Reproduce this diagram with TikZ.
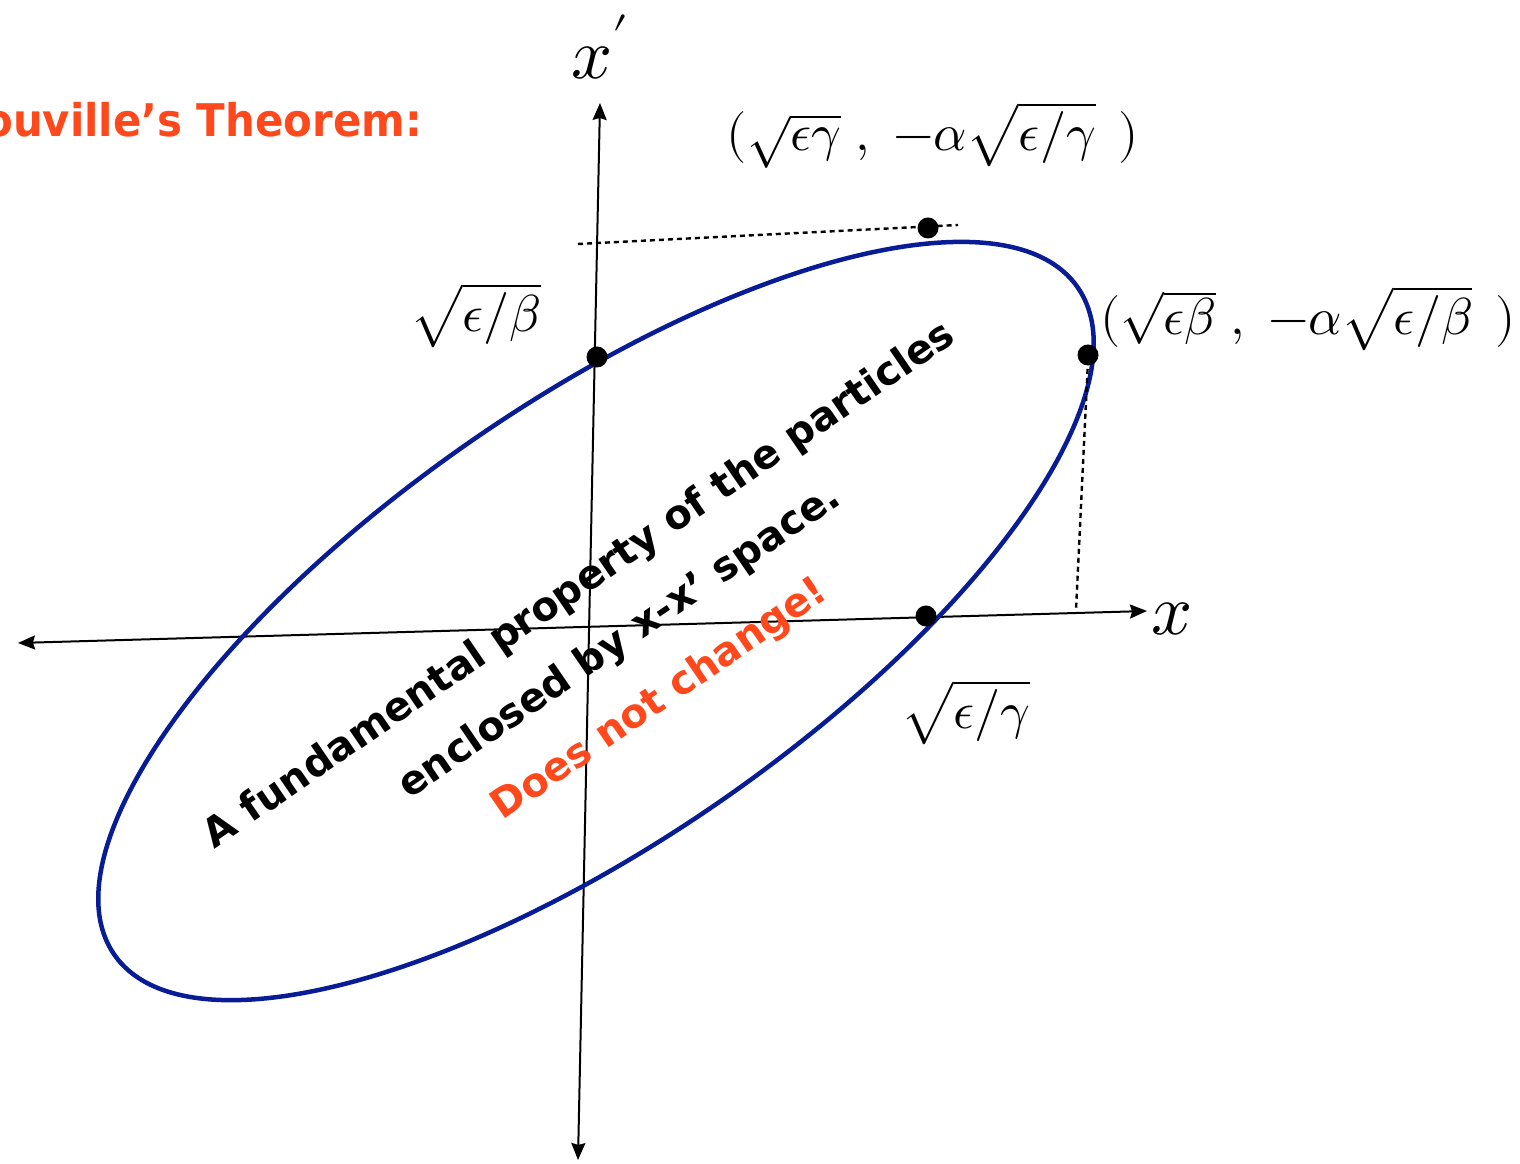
\documentclass[tikz,border=0pt]{standalone}
\usepackage{fontspec}
\usepackage{unicode-math}
\setmathfont{Latin Modern Math}
\newfontfamily\comicfont{DejaVu Sans}
\newfontfamily\titlefont[FakeStretch=0.93]{DejaVu Sans}
\usetikzlibrary{arrows.meta}
\definecolor{ered}{RGB}{255,72,28}
\definecolor{eblue}{RGB}{8,28,150}
\tikzset{
  axis/.style={line width=2pt, {Stealth[length=17pt,width=14pt,inset=2pt]}-{Stealth[length=17pt,width=14pt,inset=2pt]}},
  guide/.style={line width=2.4pt, dash pattern=on 5pt off 4pt},
  dotpt/.style={circle, fill=black, inner sep=0pt, minimum size=21pt},
  mlabel/.style={font=\fontsize{52}{58}\selectfont, inner sep=0pt},
  axlabel/.style={font=\fontsize{72}{80}\selectfont, inner sep=0pt},
  note/.style={font=\fontsize{40}{44}\comicfont\bfseries, rotate=34.4, inner sep=0pt},
}
\begin{document}
\begin{tikzpicture}[x=1pt,y=1pt]
\useasboundingbox (0,0) rectangle (1520,1164);
% axes
\coordinate (xl) at (18,521);
\coordinate (xr) at (1147,553);
\coordinate (yb) at (578,4);
\coordinate (yt) at (600,1061);
\draw[axis] (xl) -- (xr);
\draw[axis] (yb) -- (yt);
% ellipse
\coordinate (c) at (596,543);
\draw[eblue, line width=4.5pt, rotate around={34.7:(c)}] (c) ellipse [x radius=586, y radius=219];
% guides
\coordinate (g1) at (578,920);
\coordinate (g2) at (958,939);
\coordinate (g3) at (1088,804);
\coordinate (g4) at (1076,554);
\draw[guide] (g1) -- (g2);
\draw[guide] (g3) -- (g4);
% dots
\node[dotpt] (pB) at (597,807) {};
\node[dotpt] (pG) at (928,936) {};
\node[dotpt] (pR) at (1088,809) {};
\node[dotpt] (pX) at (926,548) {};
% labels
\node[axlabel] (lx) at (1172,545) {$x$};
\node[axlabel] (lxp) at (600,1117) {$x'$};
\node[mlabel] (lb) at (476,849) {$\sqrt{\epsilon/\beta}$};
\node[mlabel] (lg) at (966,452) {$\sqrt{\epsilon/\gamma}$};
\node[mlabel] (lt) at (933,1029) {$(\sqrt{\epsilon\gamma}\;,\;-\alpha\sqrt{\epsilon/\gamma}\;\,)$};
\node[mlabel, anchor=west] (lr) at (1100,846) {$(\sqrt{\epsilon\beta}\;,\;-\alpha\sqrt{\epsilon/\beta}\;\,)$};
% title
\node[font=\fontsize{45}{50}\titlefont\bfseries, text=ered, anchor=base east, inner sep=0pt] (title) at (422,1027) {Liouville’s Theorem:};
% rotated notes
\node[note] (n1) at (580,578) {A fundamental property of the particles};
\node[note] (n2) at (620,522) {enclosed by x-x’ space.};
\node[note, text=ered] (n3) at (660,464) {Does not change!};
\end{tikzpicture}
\end{document}
